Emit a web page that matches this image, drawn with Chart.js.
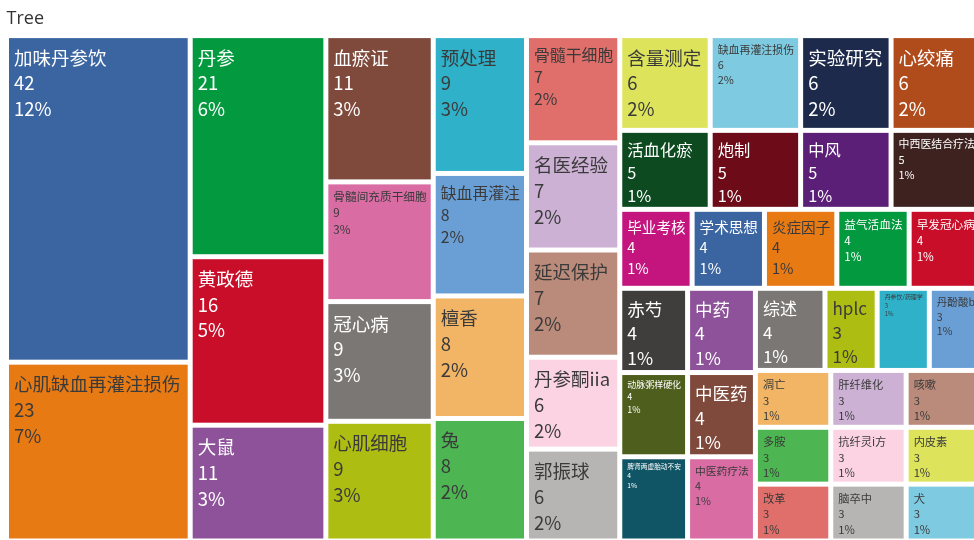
<!DOCTYPE html>
<html>
<head>
<meta charset="utf-8">
<title>Tree</title>
<script src="https://cdn.jsdelivr.net/npm/chart.js@4.4.1/dist/chart.umd.min.js"></script>
<style>
  html, body { margin: 0; padding: 0; background: #fff; overflow: hidden; }
  #wrap { position: relative; width: 990px; height: 541px; }
</style>
</head>
<body>
<div id="wrap"><canvas id="tree"></canvas></div>
<script>
// keywords and how often they occur
const labels = [
  '加味丹参饮', '心肌缺血再灌注损伤',
  '丹参', '黄政德', '大鼠',
  '血瘀证', '骨髓间充质干细胞', '冠心病', '心肌细胞',
  '预处理', '缺血再灌注', '檀香', '兔',
  '骨髓干细胞', '名医经验', '延迟保护', '丹参酮iia', '郭振球',
  '含量测定', '缺血再灌注损伤', '实验研究', '心绞痛',
  '活血化瘀', '炮制', '中风', '中西医结合疗法',
  '毕业考核', '学术思想', '炎症因子', '益气活血法', '早发冠心病',
  '赤芍', '动脉粥样硬化', '脾肾两虚胎动不安',
  '中药', '中医药', '中医药疗法',
  '综述', 'hplc', '丹参饮/药理学', '丹酚酸b',
  '凋亡', '多胺', '改革',
  '肝纤维化', '抗纤灵i方', '脑卒中',
  '咳嗽', '内皮素', '犬'
];
const counts = [
  42, 23,
  21, 16, 11,
  11, 9, 9, 9,
  9, 8, 8, 8,
  7, 7, 7, 6, 6,
  6, 6, 6, 6,
  5, 5, 5, 5,
  4, 4, 4, 4, 4,
  4, 4, 4,
  4, 4, 4,
  4, 3, 3, 3,
  3, 3, 3,
  3, 3, 3,
  3, 3, 3
];

// fill colour of each cell
const colors = [
  '#3A65A1', '#E87A14',
  '#03993F', '#C90E2A', '#8D5299',
  '#7F4A3C', '#D86CA3', '#7B7774', '#AEBD12',
  '#2FB1C9', '#6A9FD6', '#F2B566', '#4DB551',
  '#E06F6B', '#CCB1D4', '#BA8A7A', '#FBD3E3', '#B7B5B3',
  '#DDE45C', '#7ECAE0', '#1E2A4C', '#B04B1C',
  '#0D4A1F', '#6E0B19', '#5B1F78', '#3D2220',
  '#C4157F', '#3A65A1', '#E87A14', '#03993F', '#C90E2A',
  '#403E3D', '#4E5E1C', '#0F5565',
  '#8D5299', '#7F4A3C', '#D86CA3',
  '#7B7774', '#AEBD12', '#2FB1C9', '#6A9FD6',
  '#F2B566', '#4DB551', '#E06F6B',
  '#CCB1D4', '#FBD3E3', '#B7B5B3',
  '#BA8A7A', '#DDE45C', '#7ECAE0'
];

// strips of the squarified layout: direction and number of items
const strips = [
  ['col', 2], ['col', 3], ['col', 4], ['col', 4], ['col', 5],
  ['row', 4], ['row', 4], ['row', 5],
  ['col', 3], ['col', 3], ['row', 4],
  ['col', 3], ['col', 3], ['col', 3]
];

const GAP = 5;
const MAX_FONT = 18.5;
const FONT = '"Noto Sans CJK SC", "Noto Sans", sans-serif';
const total = counts.reduce((a, b) => a + b, 0);

// lay the strips out in a unit square, each strip takes its share of what is left
function layoutStrips(values) {
  const cells = [];
  let x0 = 0, y0 = 0, x1 = 1, y1 = 1;
  let rest = total;
  let i = 0;
  strips.forEach(([dir, n]) => {
    const group = values.slice(i, i + n);
    const sum = group.reduce((a, b) => a + b, 0);
    const f = sum / rest;
    if (dir === 'col') {
      const xe = x0 + (x1 - x0) * f;
      let y = y0;
      group.forEach((v, k) => {
        const h = (y1 - y0) * v / sum;
        cells.push({ i: i + k, x0: x0, x1: xe, y0: y, y1: y + h });
        y += h;
      });
      x0 = xe;
    } else {
      const ye = y0 + (y1 - y0) * f;
      let x = x0;
      group.forEach((v, k) => {
        const w = (x1 - x0) * v / sum;
        cells.push({ i: i + k, x0: x, x1: x + w, y0: y0, y1: ye });
        x += w;
      });
      y0 = ye;
    }
    rest -= sum;
    i += n;
  });
  return cells;
}

function textColor(hex) {
  const n = parseInt(hex.slice(1), 16);
  const lin = c => { c /= 255; return c <= 0.03928 ? c / 12.92 : Math.pow((c + 0.055) / 1.055, 2.4); };
  const L = 0.2126 * lin((n >> 16) & 255) + 0.7152 * lin((n >> 8) & 255) + 0.0722 * lin(n & 255);
  return L > 0.25 ? '#3a3a3a' : '#ffffff';
}

const points = layoutStrips(counts).map(c => ({
  x: (c.x0 + c.x1) / 2,
  y: (c.y0 + c.y1) / 2,
  x0: c.x0, x1: c.x1, y0: c.y0, y1: c.y1,
  i: c.i
}));

const treeCells = {
  id: 'treeCells',
  afterDatasetsDraw(chart) {
    const { ctx, scales: { x, y } } = chart;
    ctx.save();
    chart.data.datasets[0].data.forEach(d => {
      const left = x.getPixelForValue(d.x0) + GAP / 2;
      const right = x.getPixelForValue(d.x1) - GAP / 2;
      const top = y.getPixelForValue(d.y0) + GAP / 2;
      const bottom = y.getPixelForValue(d.y1) - GAP / 2;
      const w = right - left, h = bottom - top;

      ctx.fillStyle = colors[d.i];
      ctx.fillRect(left, top, w, h);

      const lines = [
        labels[d.i],
        String(counts[d.i]),
        Math.round(counts[d.i] / total * 100) + '%'
      ];
      ctx.font = '100px ' + FONT;
      const widest = Math.max(...lines.map(t => ctx.measureText(t).width / 100));
      const size = Math.min(MAX_FONT, (w - 9) / widest, (h - 3) / 4.35);

      ctx.save();
      ctx.beginPath();
      ctx.rect(left, top, w, h);
      ctx.clip();
      ctx.font = size + 'px ' + FONT;
      ctx.fillStyle = textColor(colors[d.i]);
      ctx.textAlign = 'left';
      ctx.textBaseline = 'middle';
      lines.forEach((t, k) => {
        ctx.fillText(t, left + 5, top + 1.05 * size + k * 1.4 * size);
      });
      ctx.restore();
    });
    ctx.restore();
  }
};

new Chart(document.getElementById('tree'), {
  type: 'scatter',
  data: {
    datasets: [{
      data: points,
      pointRadius: 0,
      pointHoverRadius: 0
    }]
  },
  options: {
    responsive: true,
    maintainAspectRatio: false,
    animation: false,
    layout: { padding: { left: 6.5, right: 8.5, top: 0, bottom: 0 } },
    scales: {
      x: { type: 'linear', min: 0, max: 1, display: false },
      y: { type: 'linear', min: 0, max: 1, reverse: true, display: false }
    },
    plugins: {
      legend: { display: false },
      tooltip: { enabled: false },
      title: {
        display: true,
        text: 'Tree',
        align: 'start',
        color: '#333333',
        font: { family: '"Open Sans", sans-serif', size: 18, weight: 'normal' },
        padding: { top: 8, bottom: 6 }
      }
    }
  },
  plugins: [treeCells]
});
</script>
</body>
</html>
